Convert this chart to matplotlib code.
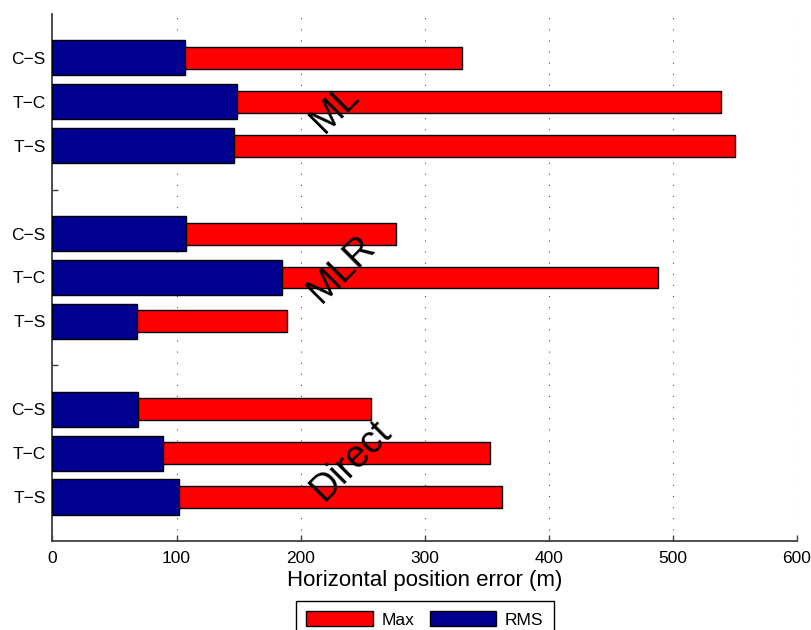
import matplotlib.pyplot as plt
import numpy as np

plt.rcParams['font.family'] = ['Liberation Sans', 'DejaVu Sans']

# rows from bottom to top: Direct, MLR, ML (each T-S, T-C, C-S)
groups = ['Direct', 'MLR', 'ML']
pairs = ['T\u2212S', 'T\u2212C', 'C\u2212S']
rms = {
    'Direct': [102, 89, 69],
    'MLR': [68, 185, 108],
    'ML': [146, 149, 107],
}
max_err = {
    'Direct': [362, 353, 257],
    'MLR': [189, 488, 277],
    'ML': [550, 539, 330],
}

red = '#FF0000'
navy = '#000090'

fig = plt.figure(figsize=(8.11, 6.30), dpi=100)
ax = fig.add_axes([0.0647, 0.1413, 0.918, 0.8365])

ypos = []
ylabels = []
rms_vals = []
max_vals = []
y = 1
for gi, g in enumerate(groups):
    for pi, p in enumerate(pairs):
        ypos.append(y)
        ylabels.append(p)
        rms_vals.append(rms[g][pi])
        max_vals.append(max_err[g][pi])
        y += 1
    y += 1
ypos = np.array(ypos)

ax.barh(ypos, max_vals, height=0.5, color=red, edgecolor='black',
        linewidth=1.0, label='Max', zorder=2)
ax.barh(ypos, rms_vals, height=0.8, color=navy, edgecolor='black',
        linewidth=1.0, label='RMS', zorder=3)

# group names, rotated
label_pos = {'ML': (228, 9.86), 'MLR': (233, 6.2), 'Direct': (241, 1.84)}
for g in groups:
    gx, gy = label_pos[g]
    ax.text(gx, gy, g, rotation=45, ha='center', va='center',
            rotation_mode='anchor', fontsize=27, zorder=5)

ticks = list(range(1, 12))
tick_labels = []
lab_iter = iter(ylabels)
for t in ticks:
    tick_labels.append('' if t % 4 == 0 else next(lab_iter))
ax.set_yticks(ticks)
ax.set_yticklabels(tick_labels)
ax.set_ylim(0, 12)
ax.set_xlim(0, 600)
ax.set_xticks(np.arange(0, 601, 100))

ax.xaxis.grid(True, linestyle=(0, (1, 9)), color='#555555', linewidth=0.8)
ax.set_axisbelow(True)

for s in ['top', 'right']:
    ax.spines[s].set_visible(False)
for s in ['left', 'bottom']:
    ax.spines[s].set_color('#404040')
    ax.spines[s].set_linewidth(1.3)

ax.tick_params(axis='both', direction='in', length=4.5, width=1.0,
               color='#404040', labelsize=12.5)
ax.tick_params(axis='x', pad=7)
ax.tick_params(axis='y', pad=5)

ax.set_xlabel('Horizontal position error (m)', fontsize=16, labelpad=3)

leg = ax.legend(loc='upper left', bbox_to_anchor=(0.365, 0.046),
                bbox_transform=fig.transFigure, borderaxespad=0,
                ncol=2, fontsize=12.5, fancybox=False, framealpha=1,
                edgecolor='black', handlelength=3.85, handleheight=0.9,
                handletextpad=0.5, columnspacing=0.85, borderpad=0.6)
leg.get_frame().set_linewidth(1.0)

fig.savefig('out.png', dpi=100)
